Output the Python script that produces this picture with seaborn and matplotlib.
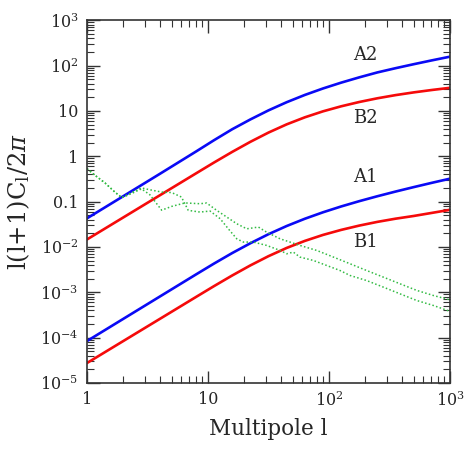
import numpy as np
import pandas as pd
import matplotlib
matplotlib.use("Agg")
import matplotlib.pyplot as plt
import matplotlib.ticker as mticker
import seaborn as sns

# ---- data ----
ell = [1, 1.995, 3.981, 7.943, 11.22, 15.85, 22.39, 31.62, 44.67, 63.10, 89.13, 125.9,
       177.8, 251.2, 354.8, 501.2, 707.9, 1000]
A2 = [0.0427, 0.1315, 0.4055, 1.265, 2.257, 3.936, 6.471, 10.26, 15.52, 22.44, 31.16, 41.88,
      54.83, 70.47, 87.3, 106.9, 129.9, 156.7]
B2 = [0.01462, 0.04467, 0.1365, 0.4169, 0.7270, 1.246, 2.077, 3.323, 5.041, 7.204, 9.761,
      12.60, 15.69, 18.95, 22.26, 25.56, 28.87, 32.25]
A1 = [8.41e-5, 2.594e-4, 7.998e-4, 2.466e-3, 4.299e-3, 7.328e-3, 0.01205, 0.0191, 0.02891,
      0.04178, 0.05801, 0.07798, 0.1021, 0.1312, 0.1663, 0.2084, 0.2592, 0.3199]
B1 = [2.754e-5, 8.414e-5, 2.570e-4, 7.852e-4, 1.369e-3, 2.347e-3, 3.913e-3, 6.258e-3,
      9.495e-3, 0.01357, 0.01839, 0.02373, 0.02955, 0.03569, 0.04194, 0.04815, 0.05629, 0.06585]

g_upper_l = [1, 1.164, 1.41, 1.70, 1.94, 2.34, 2.82, 3.31, 4.14, 5.01, 6.46, 8.59, 9.75,
             11.8, 14.3, 17.3, 20.9, 26.1, 30.5, 39.4, 47.6, 57.5, 79.1, 109, 149, 204,
             281, 386, 531, 728, 1000]
g_upper = [0.532, 0.380, 0.257, 0.162, 0.122, 0.151, 0.191, 0.141, 0.0646, 0.0783, 0.0933,
           0.0897, 0.0929, 0.064, 0.0455, 0.0324, 0.0251, 0.0274, 0.0212, 0.0151, 0.0128,
           0.0108, 8.38e-3, 5.96e-3, 4.26e-3, 3.03e-3, 2.16e-3, 1.54e-3, 1.10e-3, 8.5e-4, 6.8e-4]
g_lower_l = [1, 1.164, 1.41, 1.70, 1.94, 2.34, 2.82, 3.31, 4.14, 5.01, 6.03, 6.87, 8.59,
             10.4, 12.6, 15.1, 17.3, 19.6, 23.7, 30.5, 39.4, 44.7, 50.7, 57.5, 74.1, 95.5,
             123, 149, 204, 281, 386, 531, 728, 1000]
g_lower = [0.532, 0.380, 0.257, 0.162, 0.122, 0.158, 0.20, 0.182, 0.162, 0.158, 0.126, 0.064,
           0.0587, 0.0618, 0.0419, 0.0231, 0.0151, 0.0128, 0.0128, 0.0108, 8.38e-3, 7.06e-3,
           7.69e-3, 5.97e-3, 5.04e-3, 3.91e-3, 3.03e-3, 2.35e-3, 1.82e-3, 1.30e-3, 9.25e-4,
           6.59e-4, 5.12e-4, 3.8e-4]

labels = ["A2", "B2", "A1", "B1"]
label_pos = [(199, 169), (199, 6.9), (199, 0.342), (199, 0.0126)]

xticks = [1, 10, 100, 1000]
xticklabels = ["1", "10", r"$10^{2}$", r"$10^{3}$"]
yticks = [1e-5, 1e-4, 1e-3, 1e-2, 0.1, 1, 10, 100, 1000]
yticklabels = [r"$10^{-5}$", r"$10^{-4}$", r"$10^{-3}$", r"$10^{-2}$", "0.1", "1", "10",
               r"$10^{2}$", r"$10^{3}$"]

# ---- style ----
sns.set_style("ticks")
plt.rcParams["font.family"] = ["DejaVu Serif"]
plt.rcParams["mathtext.fontset"] = "dejavuserif"

fig = plt.figure(figsize=(4.69, 4.69), dpi=100)
ax = fig.add_axes([0.1855, 0.1834, 0.774, 0.7736])

smooth = pd.DataFrame({"l": ell, "A2": A2, "B2": B2, "A1": A1, "B1": B1})
for name, col in [("A2", "#0a0af5"), ("B2", "#f50a0a"), ("A1", "#0a0af5"), ("B1", "#f50a0a")]:
    sns.lineplot(data=smooth, x="l", y=name, ax=ax, color=col, lw=1.9,
                 estimator=None, sort=True)

gu = pd.DataFrame({"l": g_upper_l, "v": g_upper})
gl = pd.DataFrame({"l": g_lower_l, "v": g_lower})
for d in (gu, gl):
    sns.lineplot(data=d, x="l", y="v", ax=ax, color="#33bb44", lw=1.1,
                 linestyle=(0, (1, 1.5)), estimator=None, sort=True)

ax.set_xscale("log")
ax.set_yscale("log")
ax.set_xlim(1, 1000)
ax.set_ylim(1e-5, 1e3)

ax.set_xticks(xticks)
ax.set_xticklabels(xticklabels)
ax.set_yticks(yticks)
ax.set_yticklabels(yticklabels)
ax.xaxis.set_minor_locator(mticker.LogLocator(base=10, subs=np.arange(2, 10)))
ax.yaxis.set_minor_locator(mticker.LogLocator(base=10, subs=np.arange(2, 10), numticks=20))
ax.xaxis.set_minor_formatter(mticker.NullFormatter())
ax.yaxis.set_minor_formatter(mticker.NullFormatter())

ax.tick_params(which="both", direction="in", top=True, right=True, color="#333333")
ax.tick_params(which="major", length=9, width=1.0, labelsize=11.5, pad=6)
ax.tick_params(which="minor", length=5, width=0.8)
for s in ax.spines.values():
    s.set_linewidth(1.2)
    s.set_color("#333333")

ax.set_xlabel("Multipole l", fontsize=15.5, labelpad=6)
ax.set_ylabel(r"l(l+1)C$_{\rm l}$/2$\pi$", fontsize=17.5, labelpad=6)

for t, (lx, ly) in zip(labels, label_pos):
    ax.text(lx, ly, t, fontsize=13, ha="center", va="center")

fig.savefig("out.png", dpi=100)
